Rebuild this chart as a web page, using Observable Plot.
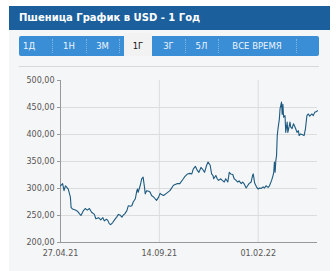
<!DOCTYPE html>
<html>
<head>
<meta charset="utf-8">
<script src="https://cdn.jsdelivr.net/npm/d3@7"></script>
<script src="https://cdn.jsdelivr.net/npm/@observablehq/plot@0.6"></script>
<style>
  html, body { margin: 0; padding: 0; background: #ffffff; width: 336px; height: 271px; overflow: hidden; font-family: "DejaVu Sans", Verdana, sans-serif; }
  #panel { position: absolute; left: 9px; top: 6px; width: 321px; height: 265px; background: #f5f6f7; }
  #header { position: absolute; left: 0; top: 0; width: 321px; height: 24px; background: #1b5f9c; color: #ffffff; font-weight: bold; font-size: 10px; line-height: 24px; padding-left: 10px; box-sizing: border-box; white-space: nowrap; }
  #tabs { position: absolute; left: 10px; top: 30px; width: 300px; height: 20px; background: #3a8ed6; border-radius: 2px; }
  .tab { position: absolute; top: 0; height: 20px; line-height: 20px; font-size: 8.5px; color: #eef5fc; text-align: center; white-space: nowrap; }
  .sep { position: absolute; top: 3px; height: 14px; width: 0; border-left: 1px dotted #7fb6e6; }
  .tab.sel { top: -3px; height: 23px; line-height: 26px; background: #f2f2f2; color: #111; border-radius: 3px 3px 0 0; }
  #rule { position: absolute; left: 10px; top: 60px; width: 300px; height: 0; border-top: 1px solid #d8d8d8; }
  #chart { position: absolute; left: 0; top: 70px; }
</style>
</head>
<body>
<div id="panel">
  <div id="header"></div>
  <div id="tabs"></div>
  <div id="rule"></div>
</div>
<div id="chart"></div>
<script>
const titleText = "Пшеница График в USD - 1 Год";
const tabLabels = ["1Д", "1Н", "3М", "1Г", "3Г", "5Л", "ВСЕ ВРЕМЯ"];
const selectedTab = "1Г";

const dates = [
  "2021-04-27","2021-04-30","2021-05-02","2021-05-04","2021-05-06","2021-05-08","2021-05-11","2021-05-12","2021-05-14","2021-05-18","2021-05-21","2021-05-24","2021-05-26","2021-05-29",
  "2021-06-01","2021-06-04","2021-06-07","2021-06-10","2021-06-14","2021-06-16","2021-06-20","2021-06-23","2021-06-26","2021-06-28",
  "2021-07-01","2021-07-03","2021-07-05","2021-07-07","2021-07-10","2021-07-12","2021-07-16","2021-07-18","2021-07-20","2021-07-23","2021-07-25","2021-07-27","2021-07-30",
  "2021-08-01","2021-08-04","2021-08-06","2021-08-08","2021-08-11","2021-08-13","2021-08-14","2021-08-15","2021-08-18","2021-08-20","2021-08-22","2021-08-24","2021-08-25","2021-08-27","2021-08-30",
  "2021-09-01","2021-09-03","2021-09-06","2021-09-08","2021-09-10","2021-09-13","2021-09-15","2021-09-17","2021-09-20","2021-09-24","2021-09-29",
  "2021-10-04","2021-10-09","2021-10-13","2021-10-18","2021-10-20","2021-10-24","2021-10-27","2021-10-30",
  "2021-11-01","2021-11-04","2021-11-07","2021-11-09","2021-11-12","2021-11-14","2021-11-17","2021-11-20","2021-11-22","2021-11-25","2021-11-27","2021-11-29","2021-11-30",
  "2021-12-03","2021-12-05","2021-12-07","2021-12-10","2021-12-12","2021-12-15","2021-12-17","2021-12-20","2021-12-22","2021-12-24","2021-12-27","2021-12-29","2021-12-31",
  "2022-01-03","2022-01-05","2022-01-08","2022-01-10","2022-01-12","2022-01-15","2022-01-17","2022-01-19","2022-01-22","2022-01-24","2022-01-25","2022-01-27","2022-01-30",
  "2022-02-01","2022-02-03","2022-02-05","2022-02-08","2022-02-10","2022-02-12","2022-02-15","2022-02-17","2022-02-20","2022-02-22","2022-02-23","2022-02-24","2022-02-25","2022-02-26","2022-02-27","2022-02-28",
  "2022-03-01","2022-03-03","2022-03-04","2022-03-06","2022-03-07","2022-03-08","2022-03-09","2022-03-11","2022-03-12","2022-03-14","2022-03-15","2022-03-17","2022-03-18","2022-03-19","2022-03-21","2022-03-23","2022-03-24","2022-03-26","2022-03-28","2022-03-30","2022-03-31",
  "2022-04-02","2022-04-04","2022-04-07","2022-04-09","2022-04-11","2022-04-13","2022-04-15","2022-04-18","2022-04-20","2022-04-22","2022-04-24","2022-04-26"
];
const prices = [
  305, 309, 296, 305, 302, 299, 284, 265, 262, 260, 258, 253, 250, 258,
  263, 260, 263, 256, 252, 244, 246, 242, 246, 240,
  243, 241, 235, 233, 237, 241, 248, 252, 251, 247, 251, 253, 259,
  268, 267, 268, 275, 281, 295, 299, 293, 306, 318, 321, 302, 290, 296, 295,
  293, 287, 284, 281, 278, 284, 291, 289, 287, 291, 296,
  306, 309, 309, 318, 322, 327, 328, 327,
  336, 341, 333, 330, 339, 336, 330, 343, 349, 343, 327, 324, 318,
  324, 318, 315, 318, 315, 312, 318, 312, 330, 327, 326, 318, 316,
  312, 314, 309, 312, 309, 301, 305, 309, 312, 324, 327, 310, 302,
  299, 301, 300, 303, 301, 305, 302, 305, 315, 324, 330, 349, 330, 352, 361, 398,
  410, 429, 448, 460, 437, 456, 432, 435, 404, 423, 404, 416, 423, 414, 411, 420, 417, 411, 404, 407, 398,
  401, 400, 398, 411, 435, 438, 434, 438, 435, 441, 442, 444
];
const yTicks = [200, 250, 300, 350, 400, 450, 500];
const xTickDates = ["2021-04-27", "2021-09-14", "2022-02-01"];
const xDomain = ["2021-04-27", "2022-04-26"];

// header + tabs
document.getElementById("header").textContent = titleText;
const tabPos = [[0, 20], [33, 34], [67, 33], [105, 28], [133, 33], [166, 33], [199, 78]];
const sepPos = [33, 67, 100, 166, 199, 277];
const tabs = document.getElementById("tabs");
tabLabels.forEach((t, i) => {
  const d = document.createElement("div");
  d.className = "tab" + (t === selectedTab ? " sel" : "");
  d.style.left = tabPos[i][0] + "px";
  d.style.width = tabPos[i][1] + "px";
  d.textContent = t;
  tabs.appendChild(d);
});
sepPos.forEach(x => {
  const s = document.createElement("div");
  s.className = "sep";
  s.style.left = x + "px";
  tabs.appendChild(s);
});

const data = dates.map((d, i) => ({date: new Date(d), price: prices[i]}));
const fmtY = v => v.toFixed(2).replace(".", ",");
const pad = n => String(n).padStart(2, "0");
const fmtX = d => pad(d.getUTCDate()) + "." + pad(d.getUTCMonth() + 1) + "." + pad(d.getUTCFullYear() % 100);
const xt = xTickDates.map(d => new Date(d));

const plot = Plot.plot({
  width: 336,
  height: 200,
  marginTop: 10,
  marginBottom: 28,
  marginLeft: 60,
  marginRight: 19,
  style: {background: "transparent", fontFamily: "DejaVu Sans, Verdana, sans-serif", fontSize: "8px", color: "#555"},
  x: {type: "utc", domain: xDomain.map(d => new Date(d))},
  y: {domain: [200, 500]},
  marks: [
    Plot.gridY(yTicks.filter(v => v > 200 && v < 500), {stroke: "#dcdcdc", strokeOpacity: 1}),
    Plot.gridX(xt.slice(1), {stroke: "#dcdcdc", strokeOpacity: 1}),
    Plot.ruleX([xt[0]], {stroke: "#999"}),
    Plot.ruleY([200], {stroke: "#999"}),
    Plot.axisY(yTicks, {tickSize: 3, tickPadding: 3, tickFormat: fmtY, label: null, stroke: "#999", fill: "#555"}),
    Plot.axisX(xt, {tickSize: 0, tickPadding: 8, tickFormat: fmtX, label: null, fill: "#555"}),
    Plot.lineY(data, {x: "date", y: "price", stroke: "#1d5a80", strokeWidth: 1.1})
  ]
});
document.getElementById("chart").appendChild(plot);
</script>
</body>
</html>
